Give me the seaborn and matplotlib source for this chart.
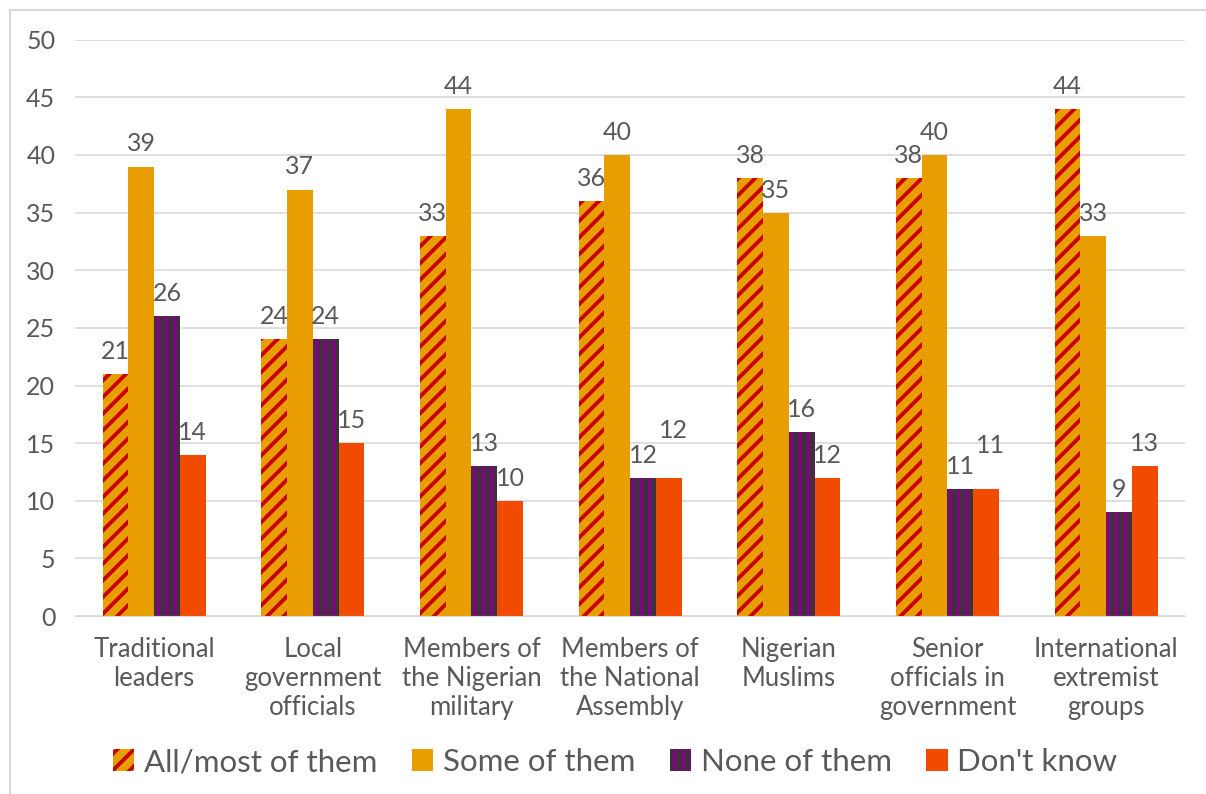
import pandas as pd
import numpy as np
import matplotlib.pyplot as plt
import seaborn as sns
from matplotlib.patches import Patch, Rectangle

groups = ["Traditional\nleaders", "Local\ngovernment\nofficials", "Members of\nthe Nigerian\nmilitary",
          "Members of\nthe National\nAssembly", "Nigerian\nMuslims", "Senior\nofficials in\ngovernment",
          "International\nextremist\ngroups"]
answers = ["All/most of them", "Some of them", "None of them", "Don't know"]
all_most = [21, 24, 33, 36, 38, 38, 44]
some = [39, 37, 44, 40, 35, 40, 33]
none = [26, 24, 13, 12, 16, 11, 9]
dont_know = [14, 15, 10, 12, 12, 11, 13]

df = pd.DataFrame({"group": groups * 4,
                   "answer": np.repeat(answers, len(groups)),
                   "value": all_most + some + none + dont_know})

orange = "#E89E00"
red = "#C80000"
purple = "#7A0A7A"
dark = "#363636"
redorange = "#F04B00"
grey = "#595959"

sns.set_style("white")
plt.rcParams["font.family"] = ["Lato", "DejaVu Sans"]
plt.rcParams["hatch.linewidth"] = 2.8

fig = plt.figure(figsize=(12.06, 7.94), dpi=100)
ax = fig.add_axes([0.062, 0.224, 0.921, 0.726])

sns.barplot(data=df, x="group", y="value", hue="answer", hue_order=answers,
            palette=[orange, orange, purple, redorange], width=0.65,
            saturation=1, ax=ax, legend=False)

for i, cont in enumerate(ax.containers):
    for p in cont:
        p.set_linewidth(0)
        if i == 0:
            p.set_hatch("//")
            p.set_edgecolor(red)
        if i == 2:
            p.set_hatch("||")
            p.set_edgecolor(dark)
    labels = ax.bar_label(cont, fontsize=18, color=grey, padding=8)
    if i == 3:
        # lift the two labels that would clash with the neighbouring bar label
        labels[3].xyann = (3, 26)
        labels[5].xyann = (3, 23)

ax.set_ylim(0, 50)
ax.set_yticks(range(0, 51, 5))
ax.set_xlim(-0.5, 6.5)
ax.yaxis.grid(True, color="#D9D9D9", linewidth=1.2)
ax.set_axisbelow(True)
for s in ["top", "right", "left"]:
    ax.spines[s].set_visible(False)
ax.spines["bottom"].set_color("#D9D9D9")
ax.tick_params(axis="y", length=0, labelsize=18, labelcolor=grey, pad=14)
ax.tick_params(axis="x", length=0, labelsize=18.5, labelcolor=grey, pad=15)
plt.setp(ax.get_xticklabels(), linespacing=1.2)
ax.set_xlabel("")
ax.set_ylabel("")

handles = [Patch(facecolor=orange, edgecolor=red, hatch="//", linewidth=0),
           Patch(facecolor=orange, linewidth=0),
           Patch(facecolor=purple, edgecolor=dark, hatch="||", linewidth=0),
           Patch(facecolor=redorange, linewidth=0)]
fig.legend(handles, answers, loc="center", bbox_to_anchor=(0.51, 0.04), ncol=4,
           frameon=False, fontsize=22.5, labelcolor=grey, handlelength=0.7,
           handleheight=0.7, handletextpad=0.3, columnspacing=1.1)

fig.patches.append(Rectangle((0.008, -0.01), 1.0, 0.998, transform=fig.transFigure,
                             fill=False, edgecolor="#D9D9D9", linewidth=1.5))

fig.savefig("out.png", dpi=100)
